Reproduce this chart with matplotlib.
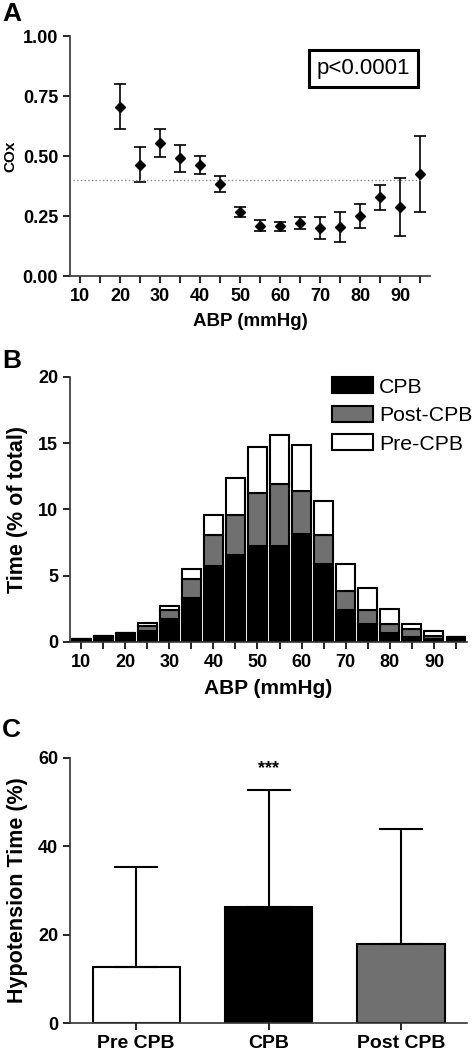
import matplotlib
matplotlib.use('Agg')
import matplotlib.pyplot as plt
from matplotlib.patches import Patch

# panel A: COx vs ABP
abp_a = [20, 25, 30, 35, 40, 45, 50, 55, 60, 65, 70, 75, 80, 85, 90, 95]
cox = [0.706, 0.464, 0.556, 0.490, 0.462, 0.382, 0.268, 0.210, 0.207, 0.221,
       0.200, 0.204, 0.251, 0.328, 0.288, 0.424]
cox_err = [0.095, 0.073, 0.058, 0.055, 0.037, 0.033, 0.020, 0.023, 0.020, 0.027,
           0.044, 0.061, 0.051, 0.051, 0.120, 0.159]

# panel B: time distribution per ABP bin
abp_b = [10, 15, 20, 25, 30, 35, 40, 45, 50, 55, 60, 65, 70, 75, 80, 85, 90, 95]
cpb = [0.20, 0.45, 0.68, 0.80, 1.77, 3.33, 5.75, 6.56, 7.26, 7.26, 8.15, 5.85,
       2.42, 1.39, 0.71, 0.38, 0.25, 0.38]
post_cpb = [0, 0, 0, 0.39, 0.63, 1.44, 2.32, 3.00, 4.01, 4.69, 3.25, 2.22,
            1.46, 1.01, 0.68, 0.62, 0.23, 0]
pre_cpb = [0, 0, 0, 0.25, 0.35, 0.70, 1.51, 2.82, 3.41, 3.66, 3.45, 2.57,
           2.02, 1.69, 1.11, 0.34, 0.35, 0]

# panel C: hypotension time
groups = ['Pre CPB', 'CPB', 'Post CPB']
hypo = [12.7, 26.2, 17.8]
hypo_sd = [22.7, 26.5, 26.1]

grey = '#707070'
axc = '#333333'
plt.rcParams['font.family'] = ['Liberation Sans', 'DejaVu Sans']
plt.rcParams['font.weight'] = 'bold'

fig = plt.figure(figsize=(4.74, 10.5), dpi=100)
axA = fig.add_axes([0.1477, 0.7371, 0.7595, 0.2286])
axB = fig.add_axes([0.1477, 0.3886, 0.8376, 0.2524])
axC = fig.add_axes([0.1477, 0.0257, 0.8376, 0.2524])

for ax in (axA, axB, axC):
    for s in ('top', 'right'):
        ax.spines[s].set_visible(False)
    for s in ('left', 'bottom'):
        ax.spines[s].set_color(axc)
        ax.spines[s].set_linewidth(1.2)
    ax.tick_params(colors='black', width=1.2, length=5, labelsize=13)

# ---- A
axA.errorbar(abp_a, cox, yerr=cox_err, fmt='D', color='black', ms=5.5,
             capsize=4, elinewidth=1.2, capthick=1.2)
axA.axhline(0.4, xmin=0.008, xmax=0.978, color='#888888', ls=':', lw=1)
axA.set_xlim(7.5, 97.5)
axA.set_ylim(0, 1)
axA.set_xticks(range(10, 100, 5))
axA.set_xticklabels([str(v) if v % 10 == 0 else '' for v in range(10, 100, 5)],
                    fontweight='bold')
axA.set_yticks([0, 0.25, 0.5, 0.75, 1.0])
axA.set_yticklabels(['0.00', '0.25', '0.50', '0.75', '1.00'], fontweight='bold')
axA.set_ylabel('COx', fontsize=11, fontweight='bold', labelpad=4)
axA.set_xlabel('ABP (mmHg)', fontsize=13.5, fontweight='bold', labelpad=6)
axA.text(0.814, 0.865, 'p<0.0001', transform=axA.transAxes, ha='center', va='center',
         fontsize=16, fontweight='normal',
         bbox=dict(boxstyle='square,pad=0.35', fc='white', ec='black', lw=2.2))
fig.text(0.005, 0.998, 'A', fontsize=19, fontweight='bold', va='top')

# ---- B
bot2 = [a + b for a, b in zip(cpb, post_cpb)]
axB.bar(abp_b, cpb, width=4.3, color='black', edgecolor='black', lw=1.5)
axB.bar(abp_b, post_cpb, bottom=cpb, width=4.3, color=grey, edgecolor='black', lw=1.5)
axB.bar(abp_b, pre_cpb, bottom=bot2, width=4.3, color='white', edgecolor='black', lw=1.5)
axB.set_xlim(7.5, 97.5)
axB.set_ylim(0, 20)
axB.set_xticks(range(10, 100, 5))
axB.set_xticklabels([str(v) if v % 10 == 0 else '' for v in range(10, 100, 5)],
                    fontweight='bold')
axB.set_yticks([0, 5, 10, 15, 20])
axB.set_yticklabels(['0', '5', '10', '15', '20'], fontweight='bold')
axB.set_ylabel('Time (% of total)', fontsize=15.5, fontweight='bold', labelpad=7)
axB.set_xlabel('ABP (mmHg)', fontsize=15, fontweight='bold', labelpad=6)
handles = [Patch(fc='black', ec='black', lw=1.5, label='CPB'),
           Patch(fc=grey, ec='black', lw=1.5, label='Post-CPB'),
           Patch(fc='white', ec='black', lw=1.5, label='Pre-CPB')]
leg = axB.legend(handles=handles, loc='upper right', bbox_to_anchor=(1.035, 1.03),
                 frameon=False, fontsize=15.3, handlelength=1.9, handleheight=0.78,
                 handletextpad=0.3, labelspacing=0.42, borderaxespad=0)
for t in leg.get_texts():
    t.set_fontweight('normal')
fig.text(0.005, 0.668, 'B', fontsize=19, fontweight='bold', va='top')

# ---- C
xc = range(len(groups))
axC.bar(xc, hypo, width=0.66, color=['white', 'black', grey], edgecolor='black', lw=1.5)
axC.errorbar(xc, hypo, yerr=[[0, 0, 0], hypo_sd], fmt='none', ecolor='black',
             elinewidth=1.5, capsize=16, capthick=1.5)
axC.text(1, 57.5, '***', ha='center', va='center', fontsize=13, fontweight='bold')
axC.set_xlim(-0.5, 2.5)
axC.set_ylim(0, 60)
axC.set_xticks(list(xc))
axC.set_xticklabels(groups, fontweight='bold', fontsize=14)
axC.set_yticks([0, 20, 40, 60])
axC.set_yticklabels(['0', '20', '40', '60'], fontweight='bold')
axC.set_ylabel('Hypotension Time (%)', fontsize=15.5, fontweight='bold', labelpad=7)
fig.text(0.005, 0.316, 'C', fontsize=19, fontweight='bold', va='top')

fig.savefig('out.png', dpi=100)
